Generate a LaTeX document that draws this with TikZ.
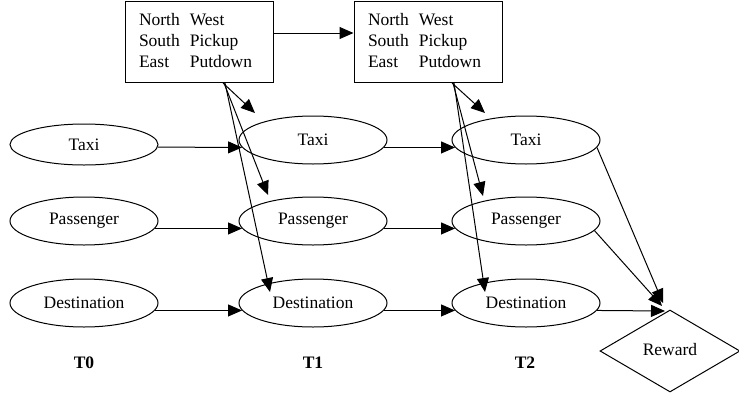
\documentclass[tikz,border=0pt]{standalone}
\usepackage{fontspec}
\setmainfont{Liberation Serif}
\newfontfamily\tnr{Liberation Serif}
\usetikzlibrary{shapes.geometric,arrows.meta}
\begin{document}
\begin{tikzpicture}[x=1pt,y=-1pt,
  every node/.style={font=\tnr\fontsize{17.5}{21}\selectfont},
  arr/.style={line width=1pt,-{Triangle[length=14pt,width=12pt]}},
  actbox/.style={draw,line width=1pt,rectangle,minimum width=148pt,minimum height=81pt,inner xsep=14pt,inner ysep=0pt,text width=120pt,align=left},
  var/.style={draw,line width=1pt,ellipse,minimum width=148pt,minimum height=48pt,inner sep=0pt},
  tlabel/.style={font=\tnr\fontsize{17.5}{21}\selectfont\bfseries}]
\useasboundingbox (0,0) rectangle (739,394);
% action boxes
\node[actbox] (box1) at (199,42) {\begin{tabular}{@{}l@{\hspace{10pt}}l@{}}North & West\\ South & Pickup\\ East & Putdown\end{tabular}};
\node[actbox] (box2) at (428,42) {\begin{tabular}{@{}l@{\hspace{10pt}}l@{}}North & West\\ South & Pickup\\ East & Putdown\end{tabular}};
% state variables
\node[var,minimum height=41pt] (t0) at (84,144.5) {Taxi};
\node[var] (p0) at (84,221) {Passenger};
\node[var] (d0) at (84,303) {Destination};
\node[var] (t1) at (313,140) {Taxi};
\node[var] (p1) at (313,221) {Passenger};
\node[var] (d1) at (313,303) {Destination};
\node[var] (t2) at (526,140) {Taxi};
\node[var] (p2) at (526,221) {Passenger};
\node[var] (d2) at (526,303) {Destination};
% reward
\node[draw,line width=1pt,diamond,minimum width=140pt,minimum height=82pt,inner sep=0pt] (rw) at (670,351) {\raisebox{4pt}{Reward}};
% time labels
\node[tlabel] (l0) at (84,363) {T0};
\node[tlabel] (l1) at (313,363) {T1};
\node[tlabel] (l2) at (525,363) {T2};
% target coordinates
\coordinate (bt1) at (255,113);
\coordinate (bp1) at (268,195);
\coordinate (bd1) at (270,292);
\coordinate (bt2) at (485,113);
\coordinate (bp2) at (483,196);
\coordinate (bd2) at (485,292);
\coordinate (rt) at (663,303);
\coordinate (rp) at (662,306);
\coordinate (rd) at (665,311);
% box to box
\draw[arr] ([yshift=9pt]box1.east) -- ([yshift=9pt]box2.west);
% box to variables
\draw[arr] ([xshift=24pt]box1.south) -- (bt1);
\draw[arr] ([xshift=25pt]box1.south) -- (bp1);
\draw[arr] ([xshift=26pt]box1.south) -- (bd1);
\draw[arr] ([xshift=24pt]box2.south) -- (bt2);
\draw[arr] ([xshift=25pt]box2.south) -- (bp2);
\draw[arr] ([xshift=26pt]box2.south) -- (bd2);
% temporal arrows
\draw[arr] (t0.-2.7) -- (t1.186.5);
\draw[arr] (p0.-6.5) -- (p1.186.5);
\draw[arr] (d0.-6.5) -- (d1.186.5);
\draw[arr] (t1.-6.5) -- (t2.186.5);
\draw[arr] (p1.-6.5) -- (p2.186.5);
\draw[arr] (d1.-6.5) -- (d2.186.5);
% reward arrows
\draw[arr] (t2.-6.5) -- (rt);
\draw[arr] (p2.-8) -- (rp);
\draw[arr] (d2.-6.5) -- (rd);
\end{tikzpicture}
\end{document}
